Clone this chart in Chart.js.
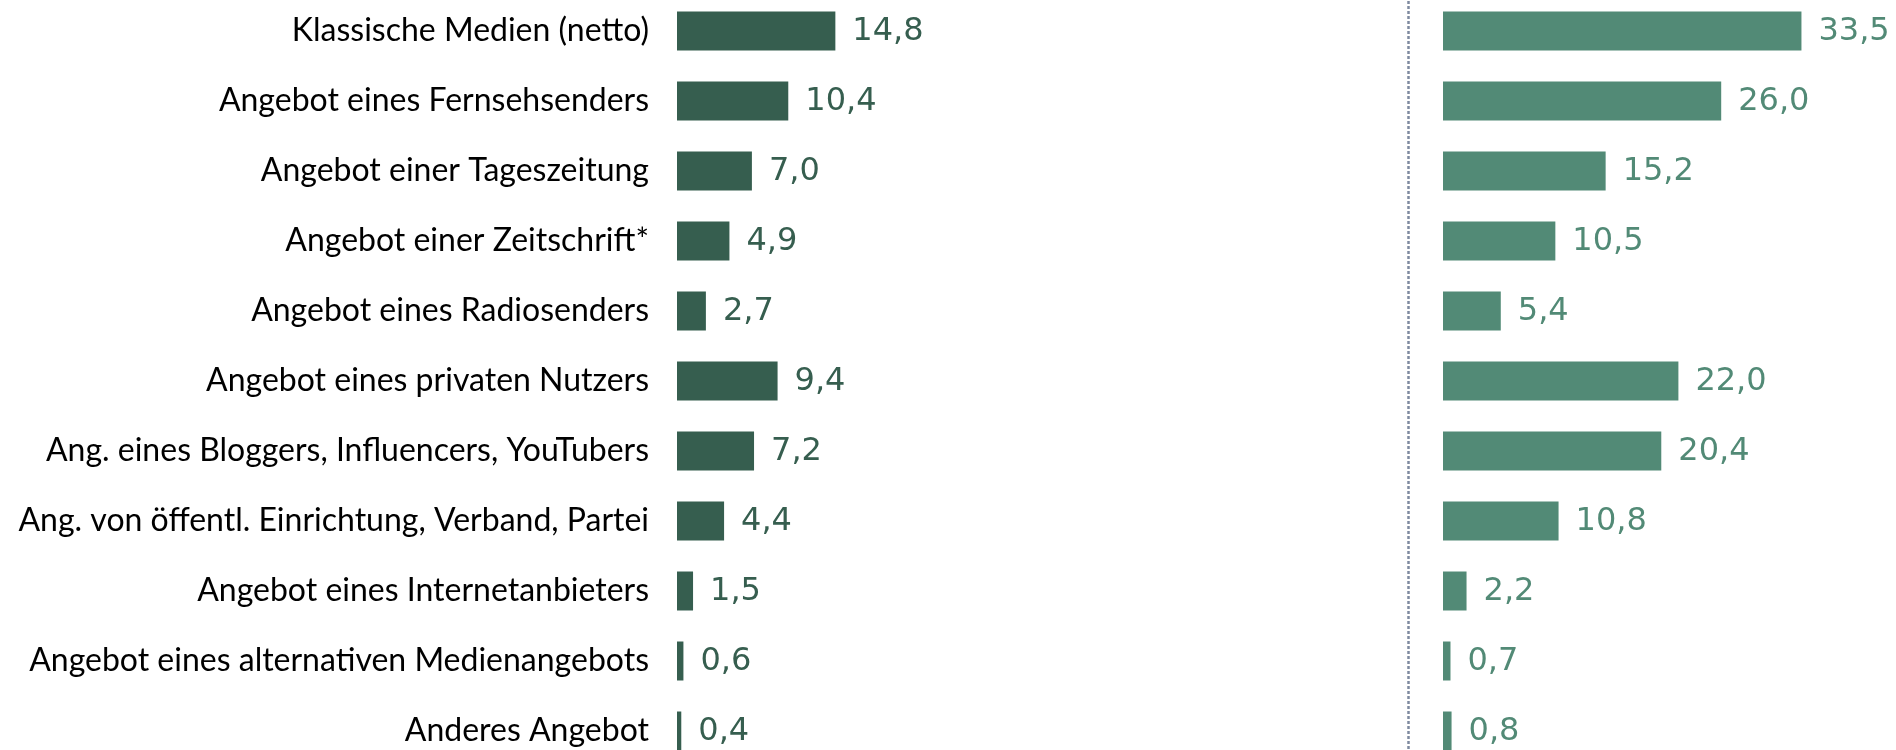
<!DOCTYPE html>
<html>
<head>
<meta charset="utf-8">
<script src="https://cdn.jsdelivr.net/npm/chart.js@4/dist/chart.umd.min.js"></script>
<style>
    html, body { margin: 0; padding: 0; background: #fff; overflow: hidden; width: 1896px; height: 750px; }
    .box { position: absolute; }
    #boxLeft { left: 0; top: -4px; width: 1105px; height: 770px; }
    #boxRight { left: 1400px; top: -4px; width: 496px; height: 770px; }
</style>
</head>
<body>
<div class="box" id="boxLeft"><canvas id="chartLeft"></canvas></div>
<div class="box" id="boxRight"><canvas id="chartRight"></canvas></div>

<script>
// Kategorien
const categories = [
    'Klassische Medien (netto)',
    'Angebot eines Fernsehsenders',
    'Angebot einer Tageszeitung',
    'Angebot einer Zeitschrift*',
    'Angebot eines Radiosenders',
    'Angebot eines privaten Nutzers',
    'Ang. eines Bloggers, Influencers, YouTubers',
    'Ang. von öffentl. Einrichtung, Verband, Partei',
    'Angebot eines Internetanbieters',
    'Angebot eines alternativen Medienangebots',
    'Anderes Angebot'
]
// Werte links (dunkel) und rechts (hell)
const valuesLeft = [14.8, 10.4, 7.0, 4.9, 2.7, 9.4, 7.2, 4.4, 1.5, 0.6, 0.4]
const valuesRight = [33.5, 26.0, 15.2, 10.5, 5.4, 22.0, 20.4, 10.8, 2.2, 0.7, 0.8]
const axisMax = 40

const darkGreen = '#365e4f'
const lightGreen = '#528a76'

Chart.defaults.animation = false
Chart.defaults.devicePixelRatio = 1

// Werte neben die Balken schreiben
const valueLabels = {
    id: 'valueLabels',
    afterDatasetsDraw(chart) {
        const ctx = chart.ctx
        const ds = chart.data.datasets[0]
        const meta = chart.getDatasetMeta(0)
        ctx.save()
        ctx.font = '32px "DejaVu Sans"'
        ctx.fillStyle = ds.labelColor
        ctx.textAlign = 'left'
        ctx.textBaseline = 'middle'
        meta.data.forEach((bar, i) => {
            const txt = ds.data[i].toFixed(1).replace('.', ',')
            ctx.fillText(txt, bar.x + 17, bar.y + 1)
        })
        ctx.restore()
    }
}

// gepunktete Trennlinie
const dottedLine = {
    id: 'dottedLine',
    beforeDatasetsDraw(chart) {
        const ctx = chart.ctx
        const x = chart.chartArea.left - 34.5
        ctx.save()
        ctx.strokeStyle = '#7f8aa0'
        ctx.lineWidth = 2.5
        ctx.setLineDash([3, 2])
        ctx.beginPath()
        ctx.moveTo(x, 0)
        ctx.lineTo(x, chart.height)
        ctx.stroke()
        ctx.restore()
    }
}

function makeChart(elm, values, color, showLabels, padding, plugins) {
    return new Chart(document.getElementById(elm), {
        type: 'bar',
        data: {
            labels: categories,
            datasets: [{
                data: values,
                backgroundColor: color,
                labelColor: color,
                barPercentage: 0.557,
                categoryPercentage: 1
            }]
        },
        options: {
            indexAxis: 'y',
            responsive: true,
            maintainAspectRatio: false,
            layout: {padding: padding},
            plugins: {legend: {display: false}, tooltip: {enabled: false}},
            scales: {
                x: {display: false, min: 0, max: axisMax},
                y: {
                    display: showLabels,
                    grid: {display: false, drawTicks: false},
                    border: {display: false},
                    ticks: {
                        color: '#000',
                        padding: 28,
                        font: {family: 'Lato', size: 32}
                    },
                    afterFit(scale) {
                        if (!showLabels) return
                        scale.width = 677
                        // keine Extra-Abstände oben/unten
                        scale.paddingTop = 0
                        scale.paddingBottom = 0
                    }
                }
            }
        },
        plugins: plugins
    })
}

makeChart('chartLeft', valuesLeft, darkGreen, true, {left: 0, right: 0, top: 0, bottom: 0}, [valueLabels])
makeChart('chartRight', valuesRight, lightGreen, false, {left: 43, right: 25, top: 0, bottom: 0}, [valueLabels, dottedLine])
</script>
</body>
</html>
